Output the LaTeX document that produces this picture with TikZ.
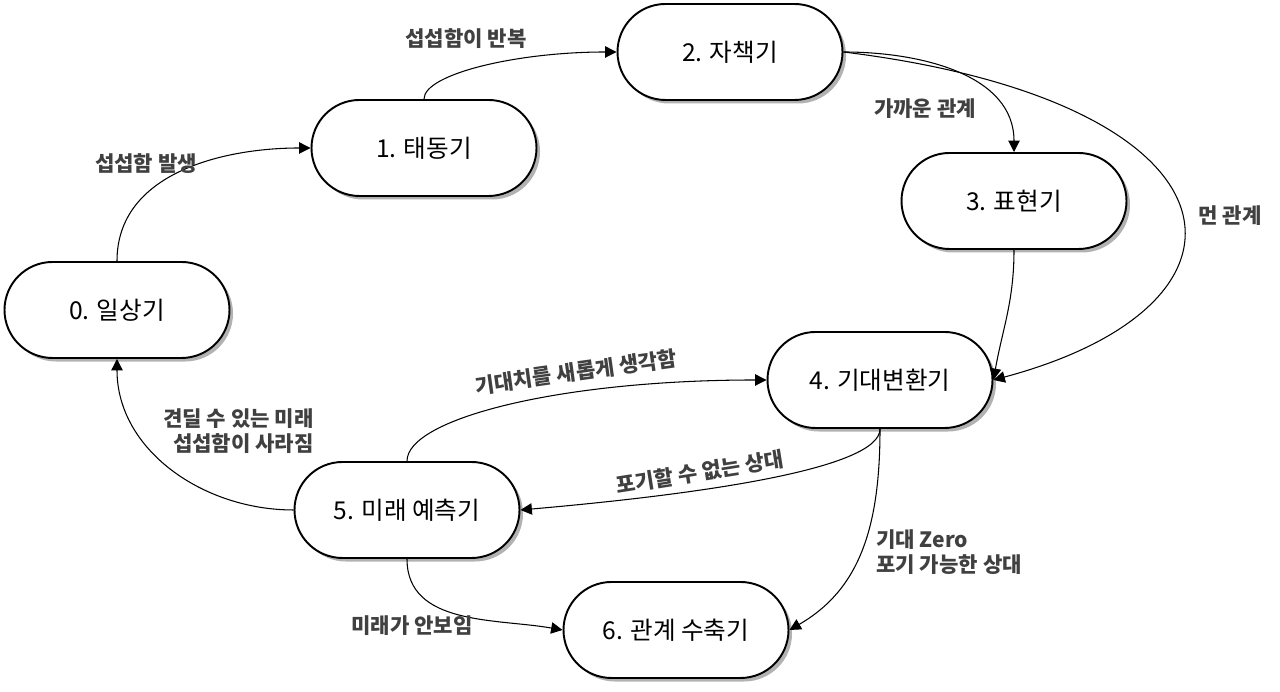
\documentclass[tikz,border=0pt]{standalone}
\usepackage{fontspec}
\setmainfont{Noto Sans CJK KR}
\usetikzlibrary{arrows.meta, shadows}
\definecolor{phaseink}{HTML}{000000}
\definecolor{phasetext}{HTML}{404040}
\tikzset{
  phase box/.style={rectangle, rounded corners=0.96cm, draw=phaseink, fill=white, line width=1.1pt,
    minimum width=4.5cm, minimum height=1.92cm, font=\fontsize{14}{17}\selectfont,
    drop shadow={shadow xshift=2pt, shadow yshift=-2pt, fill=black, opacity=0.3}},
  phase edge/.style={phaseink, line width=0.6pt, -{Triangle[length=6.5pt, width=6.5pt]}},
  phase label/.style={phasetext, inner sep=0pt, font=\fontsize{12}{14}\selectfont\bfseries},
}

\begin{document}
\begin{tikzpicture}
  \useasboundingbox (0,0) rectangle (25.6,13.84);

  % stages
  \node[phase box] (s0) at (2.34,7.64)  {0. 일상기};
  \node[phase box] (s1) at (8.48,10.88) {1. 태동기};
  \node[phase box] (s2) at (14.60,12.80) {2. 자책기};
  \node[phase box] (s3) at (20.28,9.82) {3. 표현기};
  \node[phase box] (s4) at (17.60,6.24) {4. 기대변환기};
  \node[phase box] (s5) at (8.14,3.64)  {5. 미래 예측기};
  \node[phase box] (s6) at (13.52,1.24) {6. 관계 수축기};

  % transitions
  \draw[phase edge] (s0.north) to[out=90, in=180] (s1.west);
  \draw[phase edge] (s1.north) to[out=90, in=180, out distance=0.5cm, in distance=2cm] (s2.west);
  \draw[phase edge] (s2.east) to[out=0, in=90] (s3.north);
  \draw[phase edge] (s2.east) to[out=-7, in=15, out distance=8.2cm, in distance=5.95cm] (s4.east);
  \draw[phase edge] (s3.south) to[out=-90, in=80] (s4.east);
  \draw[phase edge] (s5.north) to[out=90, in=180, out distance=0.84cm, in distance=4.16cm] (s4.west);
  \draw[phase edge] (s4.south) to[out=-90, in=5, out distance=0.8cm, in distance=3.6cm] (s5.east);
  \draw[phase edge] (s4.south) to[out=-90, in=30, out distance=2cm, in distance=1.6cm] (s6.east);
  \draw[phase edge] (s5.west) to[out=180, in=-90] (s0.south);
  \draw[phase edge] (s5.south) to[out=-90, in=170] (s6.west);

  % labels
  \node[phase label] (l01) at (2.92,10.56) {섭섭함 발생};
  \node[phase label] (l12) at (9.32,13.06) {섭섭함이 반복};
  \node[phase label] (l23) at (18.50,11.66) {가까운 관계};
  \node[phase label] (l24) at (24.60,9.52) {먼 관계};
  \node[phase label, rotate=8] (l54) at (11.52,6.40) {기대치를 새롭게 생각함};
  \node[phase label, rotate=9] (l45) at (14.00,4.40) {포기할 수 없는 상대};
  \node[phase label, anchor=east, align=right] (l50) at (6.28,5.22) {견딜 수 있는 미래\\섭섭함이 사라짐};
  \node[phase label, anchor=west, align=left] (l46) at (17.52,2.80) {기대 Zero\\포기 가능한 상대};
  \node[phase label] (l56) at (8.24,1.32) {미래가 안보임};
\end{tikzpicture}
\end{document}
